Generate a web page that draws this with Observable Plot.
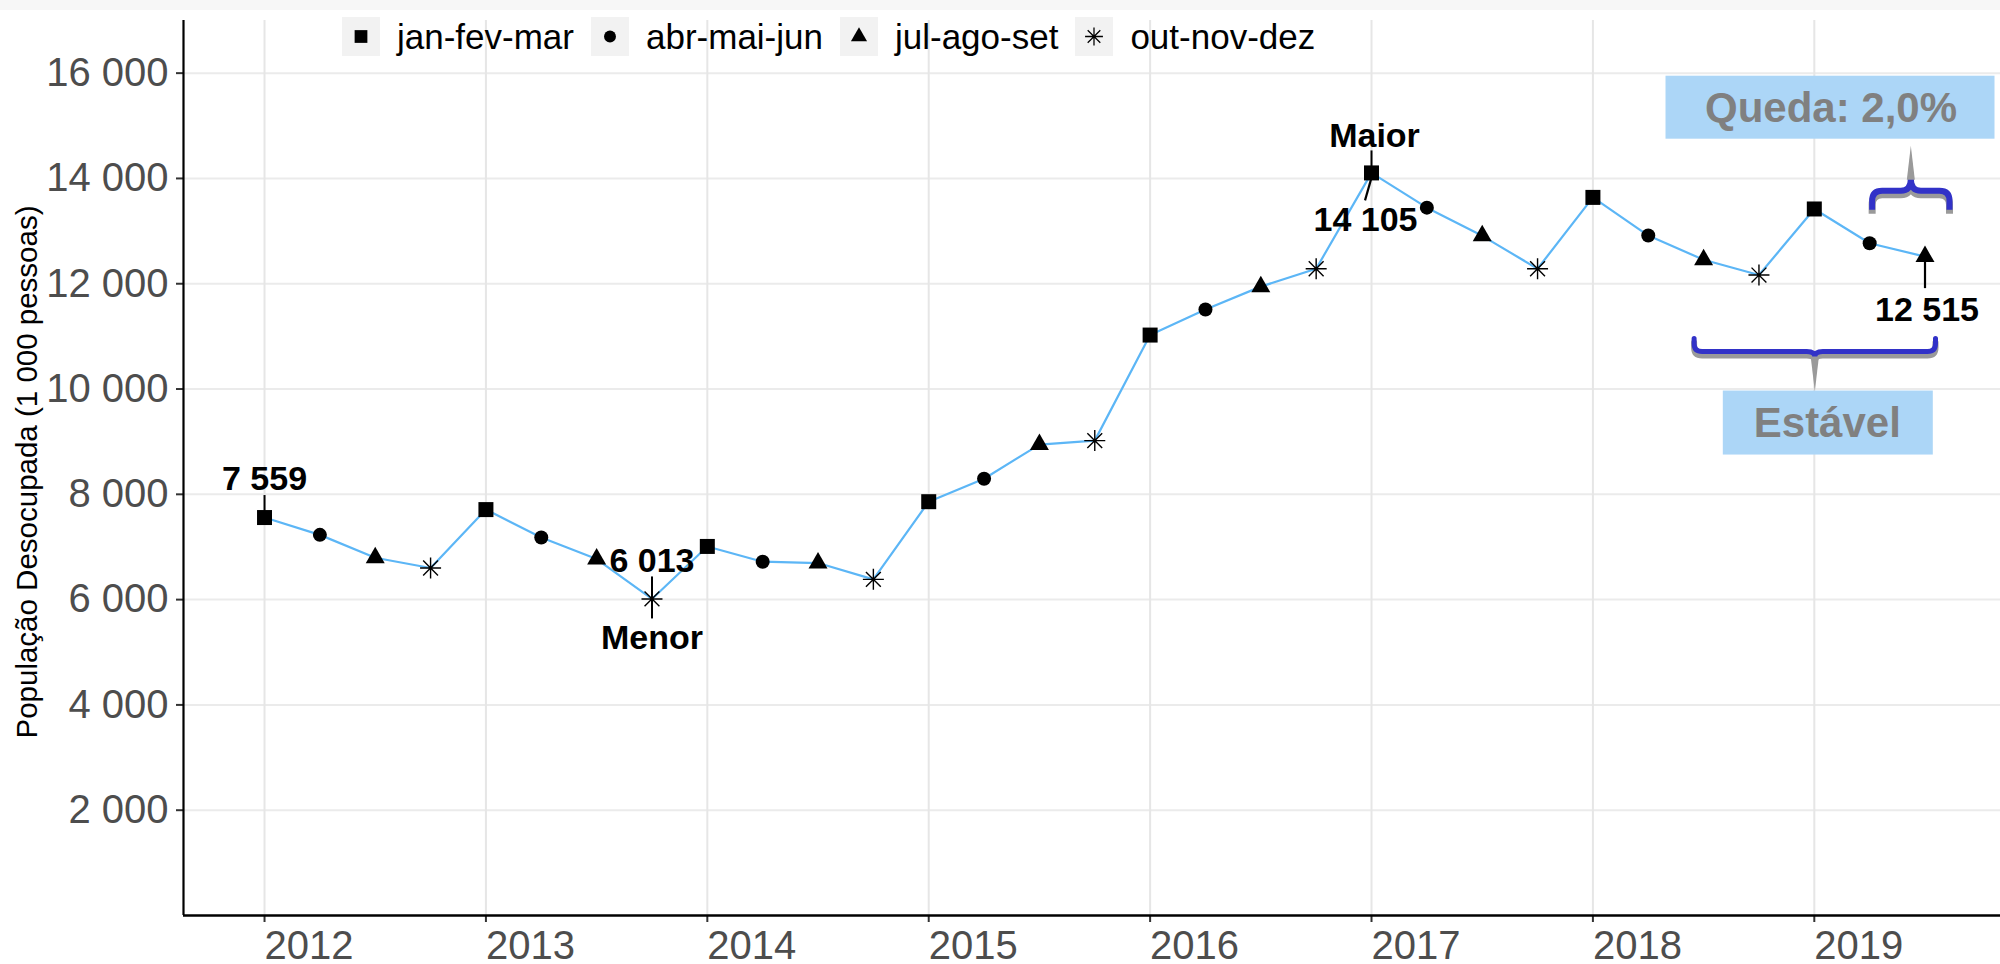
<!DOCTYPE html>
<html><head><meta charset="utf-8">
<script src="https://cdn.jsdelivr.net/npm/d3@7"></script>
<script src="https://cdn.jsdelivr.net/npm/@observablehq/plot@0.6"></script>
<style>
html,body{margin:0;padding:0;background:#fff;overflow:hidden;width:2000px;height:964px;}
#wrap{position:relative;width:2000px;height:964px;font-family:"Liberation Sans",Arial,sans-serif;}
#topstrip{position:absolute;left:0;top:0;width:2000px;height:10px;background:#f7f7f7;z-index:2}
#chart{position:absolute;left:0;top:0;}
#legend{position:absolute;left:342px;top:17px;display:flex;align-items:center;z-index:3;}
.item{display:flex;align-items:center;}
.key{width:38px;height:39px;background:#f2f2f2;display:flex;align-items:center;justify-content:center;}
.lab{font-size:35px;margin-left:17px;margin-right:17px;color:#000;line-height:39px;}
</style></head><body>
<div id="wrap"><div id="topstrip"></div><div id="chart"></div><div id="legend"></div></div>
<script>
// ---------- data ----------
const quarters = ["jan-fev-mar", "abr-mai-jun", "jul-ago-set", "out-nov-dez"];
const years = [2012, 2013, 2014, 2015, 2016, 2017, 2018, 2019];
const v2012 = [7559, 7230, 6795, 6600];
const v2013 = [7710, 7180, 6770, 6013];
const v2014 = [7010, 6720, 6695, 6385];
const v2015 = [7860, 8295, 8945, 9020];
const v2016 = [11025, 11510, 11945, 12285];
const v2017 = [14105, 13445, 12910, 12285];
const v2018 = [13640, 12915, 12455, 12165];
const v2019 = [13420, 12770, 12515];
const yTicks = [2000, 4000, 6000, 8000, 10000, 12000, 14000, 16000];
const yTitle = "População Desocupada (1 000 pessoas)";
const extremeLabels = ["Menor", "Maior"];
const stableLabel = "Estável";
const dropLabel = "Queda: 2,0%";

const series = [v2012, v2013, v2014, v2015, v2016, v2017, v2018, v2019];
const data = years.flatMap((yr, i) => series[i].map((v, q) => ({t: yr + q / 4, year: yr, quarter: quarters[q], value: v})));

const fmt = d3.formatLocale({decimal: ",", thousands: " ", grouping: [3], currency: ["", ""]}).format(",");
const first = data[0];
const last = data[data.length - 1];
const minPt = d3.least(data, d => d.value);
const maxPt = d3.greatest(data, d => d.value);
// stable period: from 2018 jul-ago-set to the last quarter; drop: last two quarters
const stableStart = data.find(d => d.year === 2018 && d.quarter === quarters[2]);
const stablePts = data.filter(d => d.t >= stableStart.t);
const dropPts = data.slice(-2);

// ---------- symbols ----------
const SQ = {draw(c) { c.moveTo(-7.5, -7.5); c.lineTo(7.5, -7.5); c.lineTo(7.5, 7.5); c.lineTo(-7.5, 7.5); c.closePath(); }};
const CI = {draw(c) { c.moveTo(7, 0); c.arc(0, 0, 7, 0, 2 * Math.PI); c.closePath(); }};
const TR = {draw(c) { c.moveTo(0, -11); c.lineTo(9.5, 5.5); c.lineTo(-9.5, 5.5); c.closePath(); }};
const AS = {draw(c) { const r = 10.5, d = 0.7071;
  c.moveTo(-r, 0); c.lineTo(r, 0); c.moveTo(0, -r); c.lineTo(0, r);
  c.moveTo(-r * d, -r * d); c.lineTo(r * d, r * d); c.moveTo(-r * d, r * d); c.lineTo(r * d, -r * d); }};
const symbols = [SQ, CI, TR, AS];

// ---------- geometry ----------
const W = 2000, H = 964;
const xDomain = [2011.634, 2019.841];
const yDomain = [0, 17000];

function bracePath(x1, x2, yb, dir, h, tip, r) {
  const xm = (x1 + x2) / 2, ye = yb + dir * h, yt = yb - dir * tip;
  return `M${x1},${ye}L${x1},${yb + dir * r}Q${x1},${yb} ${x1 + r},${yb}L${xm - r},${yb}Q${xm},${yb} ${xm},${yt}` +
         `Q${xm},${yb} ${xm + r},${yb}L${x2 - r},${yb}Q${x2},${yb} ${x2},${yb + dir * r}L${x2},${ye}`;
}

function annotations(index, scales) {
  const X = scales.x, Y = scales.y;
  const g = d3.create("svg:g");
  // slanted leader for the maximum value label
  const mx = X(maxPt.t), my = Y(maxPt.value);
  g.append("path").attr("d", `M${mx + 2},${my}L${mx - 6},${my + 28}`).attr("stroke", "#000").attr("stroke-width", 2.2);

  // big brace: stable period
  const bx1 = X(stablePts[0].t) - 9, bx2 = X(stablePts[stablePts.length - 1].t) + 11;
  const by = Y(d3.min(stablePts, d => d.value)) + 77;
  const bxm = (bx1 + bx2) / 2;
  g.append("path").attr("d", bracePath(bx1, bx2, by + 4, -1, 13, 5, 8)).attr("fill", "none").attr("stroke", "#9a9a9a").attr("stroke-width", 6).attr("stroke-linecap", "round");
  g.append("path").attr("d", bracePath(bx1, bx2, by, -1, 13, 5, 8)).attr("fill", "none").attr("stroke", "#3232c8").attr("stroke-width", 5).attr("stroke-linecap", "round");
  g.append("path").attr("d", `M${bxm - 4},${by + 6}L${bxm + 4},${by + 6}L${bxm},${by + 40}Z`).attr("fill", "#9a9a9a");
  // stable box
  g.append("rect").attr("x", bxm + 13 - 105).attr("y", by + 71 - 32).attr("width", 210).attr("height", 64).attr("fill", "#acd6f7");

  // small brace: drop
  const sx1 = X(dropPts[0].t) + 3, sx2 = X(dropPts[1].t) + 25;
  const sy = Y(d3.max(dropPts, d => d.value)) - 52;
  const sxm = (sx1 + sx2) / 2;
  g.append("path").attr("d", bracePath(sx1, sx2, sy + 4, 1, 19, 12, 10)).attr("fill", "none").attr("stroke", "#9a9a9a").attr("stroke-width", 7).attr("stroke-linecap", "butt");
  g.append("path").attr("d", bracePath(sx1, sx2, sy, 1, 19, 12, 10)).attr("fill", "none").attr("stroke", "#3232c8").attr("stroke-width", 6).attr("stroke-linecap", "butt");
  g.append("path").attr("d", `M${sxm - 4},${sy - 11}L${sxm + 4},${sy - 11}L${sxm},${sy - 45}Z`).attr("fill", "#9a9a9a");
  // drop box
  const qx = X(dropPts[1].t) - 94, qy = Y(d3.max(dropPts, d => d.value)) - 135;
  g.append("rect").attr("x", qx - 165).attr("y", qy - 32).attr("width", 329).attr("height", 63).attr("fill", "#acd6f7");
  return g.node();
}

const byQuarter = q => data.filter(d => d.quarter === quarters[q]);
const dotStyle = (q, s) => q === 3
  ? {x: "t", y: "value", symbol: s, fill: "none", stroke: "#000", strokeWidth: 1.4}
  : {x: "t", y: "value", symbol: s, fill: "#000", stroke: "none"};

const chart = Plot.plot({
  width: W, height: H,
  marginLeft: 183, marginRight: 0, marginTop: 20, marginBottom: 49,
  style: {fontFamily: "'Liberation Sans', Arial, sans-serif", fontSize: "40px", color: "#000", background: "transparent", overflow: "visible"},
  x: {domain: xDomain, ticks: years, tickFormat: d => String(d), tickSize: 7, tickPadding: 8, label: null},
  y: {domain: yDomain, ticks: yTicks, tickFormat: d => fmt(d), tickSize: 7, tickPadding: 8, label: null},
  marks: [
    Plot.ruleY(yTicks, {stroke: "#ebebeb", strokeWidth: 2}),
    Plot.ruleX(years, {stroke: "#e6e6e6", strokeWidth: 2}),
    Plot.ruleX([xDomain[0]], {stroke: "#000", strokeWidth: 2.2}),
    Plot.ruleY([yDomain[0]], {stroke: "#000", strokeWidth: 2.6}),
    Plot.line(data, {x: "t", y: "value", stroke: "#5cb6f6", strokeWidth: 2.2}),
    // leaders
    Plot.ruleX([first], {x: "t", y1: "value", y2: "value", insetTop: -22, insetBottom: 0, stroke: "#000", strokeWidth: 2}),
    Plot.ruleX([minPt], {x: "t", y1: "value", y2: "value", insetTop: -22, insetBottom: -20, stroke: "#000", strokeWidth: 2}),
    Plot.ruleX([maxPt], {x: "t", y1: "value", y2: "value", insetTop: -22, insetBottom: 0, stroke: "#000", strokeWidth: 2}),
    Plot.ruleX([last], {x: "t", y1: "value", y2: "value", insetTop: 4, insetBottom: -32, stroke: "#000", strokeWidth: 2.2}),
    ...symbols.map((s, q) => Plot.dot(byQuarter(q), dotStyle(q, s))),
    // value labels
    Plot.text([first], {x: "t", y: "value", text: d => fmt(d.value), dy: -38, fontSize: 34, fontWeight: "bold", fill: "#000"}),
    Plot.text([minPt], {x: "t", y: "value", text: d => fmt(d.value), dy: -38, fontSize: 34, fontWeight: "bold", fill: "#000"}),
    Plot.text([minPt], {x: "t", y: "value", text: () => extremeLabels[0], dy: 39, fontSize: 34, fontWeight: "bold", fill: "#000"}),
    Plot.text([maxPt], {x: "t", y: "value", text: () => extremeLabels[1], dx: 3, dy: -37, fontSize: 34, fontWeight: "bold", fill: "#000"}),
    Plot.text([maxPt], {x: "t", y: "value", text: d => fmt(d.value), dx: -6, dy: 47, fontSize: 34, fontWeight: "bold", fill: "#000"}),
    Plot.text([last], {x: "t", y: "value", text: d => fmt(d.value), dx: 2, dy: 53, fontSize: 34, fontWeight: "bold", fill: "#000"}),
    // braces and boxes
    annotations,
    Plot.text([stablePts], {x: d => (d[0].t + d[d.length - 1].t) / 2, y: d => d3.min(d, e => e.value), text: () => stableLabel, dx: 13, dy: 148, fontSize: 42, fontWeight: "bold", fill: "#808080"}),
    Plot.text([dropPts], {x: d => d[1].t, y: d => d3.max(d, e => e.value), text: () => dropLabel, dx: -94, dy: -135, fontSize: 42, fontWeight: "bold", fill: "#808080"}),
    // y title
    Plot.text([yTitle], {frameAnchor: "left", rotate: -90, textAnchor: "middle", dx: -156, dy: 4, fontSize: 29.5, fill: "#000"})
  ]
});
document.getElementById("chart").appendChild(chart);

// axis styling
const svg = d3.select(chart);
svg.selectAll('[aria-label^="y-axis"] text, [aria-label^="x-axis"] text').attr("fill", "#4d4d4d").style("fill", "#4d4d4d");
svg.selectAll('[aria-label^="x-axis"]').attr("text-anchor", "start");
svg.selectAll('[aria-label^="x-axis"] text').attr("text-anchor", "start").style("text-anchor", "start");
svg.selectAll('[aria-label^="y-axis"] line, [aria-label^="x-axis"] line, [aria-label^="y-axis"] path, [aria-label^="x-axis"] path').attr("stroke", "#333").attr("stroke-width", 2);

// legend
const leg = d3.select("#legend");
quarters.forEach((q, i) => {
  const it = leg.append("div").attr("class", "item");
  const p = d3.path(); symbols[i].draw(p);
  const k = it.append("div").attr("class", "key").append("svg").attr("width", 38).attr("height", 39).attr("viewBox", "-19 -19.5 38 39");
  k.append("path").attr("d", p.toString()).attr("transform", "scale(0.85)")
    .attr("fill", i === 3 ? "none" : "#000").attr("stroke", i === 3 ? "#000" : "none").attr("stroke-width", 1.5);
  it.append("span").attr("class", "lab").text(q);
});
</script>
</body></html>
